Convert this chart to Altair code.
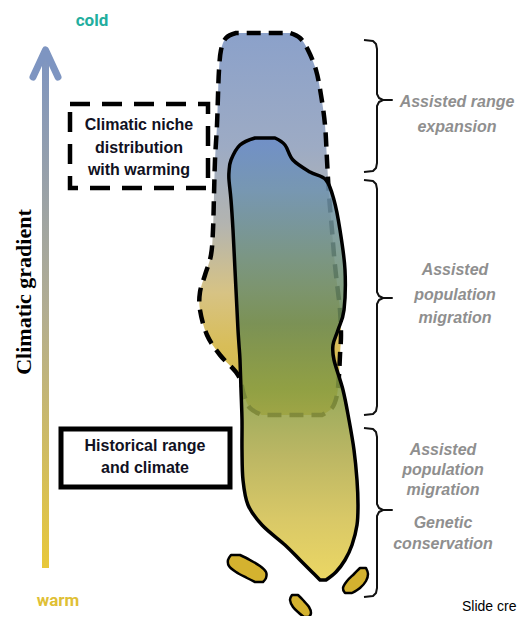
import altair as alt
import pandas as pd

# ---------------- data (diagram geometry) ----------------
# Climatic niche with warming (dashed outline): rows of (y, left x, right x)
niche_y     = [33, 38, 50, 70, 95, 125, 160, 195, 230, 255, 275, 292, 310, 335, 355, 375, 395, 408, 415]
niche_left  = [236, 226, 221, 219, 218, 217, 215, 214, 213, 211, 205, 200, 200, 207, 220, 238, 244, 250, 262]
niche_right = [290, 300, 308, 316, 321, 325, 327, 329, 332, 334, 336, 338, 340, 341, 340, 339, 337, 332, 322]

# Historical range (solid outline)
hist_y     = [138, 145, 160, 172, 180, 200, 230, 270, 310, 330, 345, 360, 390, 420, 450, 480, 505, 525, 545, 560, 572, 580]
hist_left  = [255, 240, 231, 229, 229, 231, 233, 235, 237, 238, 239, 240, 241, 242, 242, 243, 248, 262, 285, 300, 312, 320]
hist_right = [275, 285, 293, 310, 326, 334, 340, 345, 344, 338, 333, 334, 343, 349, 354, 357, 358, 357, 352, 345, 336, 326]

# Isolated populations
isl1_y, isl1_l, isl1_r = [555, 560, 566, 572, 578, 582], [231, 228, 229, 236, 247, 255], [240, 250, 260, 266, 266, 263]
isl2_y, isl2_l, isl2_r = [595, 600, 607, 613, 617], [292, 290, 293, 299, 304], [298, 303, 309, 311, 309]
isl3_y, isl3_l, isl3_r = [568, 574, 581, 588, 593], [360, 354, 347, 343, 345], [366, 368, 366, 360, 352]

# Brackets: (top, middle, bottom)
bracket_top = [40, 180, 428]
bracket_mid = [100, 298, 510]
bracket_bot = [172, 415, 597]

# Bracket labels
label_text = ["Assisted range", "expansion",
              "Assisted", "population", "migration",
              "Assisted", "population", "migration", "Genetic", "conservation"]
label_x = [457, 457, 455, 455, 455, 443, 443, 443, 443, 443]
label_y = [102, 127, 270, 295, 318, 450, 470, 490, 523, 544]

XS = alt.Scale(domain=[8, 520], nice=False, zero=False)
YS = alt.Scale(domain=[8, 616], nice=False, zero=False, reverse=True)


def X(f):
    return alt.X(f, type="quantitative", scale=XS, axis=None)


def Y(f):
    return alt.Y(f, type="quantitative", scale=YS, axis=None)


def grad(stops):
    return alt.Gradient(gradient="linear", x1=0, x2=0, y1=0, y2=1,
                        stops=[alt.GradientStop(color=c, offset=o) for o, c in stops])


def blob(ys, ls, rs, **mk):
    df = pd.DataFrame({"y": ys, "xl": ls, "xr": rs})
    return alt.Chart(df).mark_area(orient="horizontal", interpolate="cardinal",
                                   strokeJoin="round", **mk).encode(
        y=Y("y"), x=X("xl"), x2="xr")


# --- left arrow ---
shaft = alt.Chart(pd.DataFrame({"x": [42], "x2": [49], "y": [52], "y2": [568]})).mark_rect(
    fill=grad([(0, "#7e95c1"), (0.5, "#b2ad92"), (1, "#e8c83a")])
).encode(x=X("x"), x2="x2", y=Y("y"), y2="y2")

head = alt.Chart(pd.DataFrame({"x": [33, 45.5, 58], "y": [77, 50, 77], "o": [0, 1, 2]})).mark_line(
    color="#7e95c1", strokeWidth=7, strokeCap="round", strokeJoin="round"
).encode(x=X("x"), y=Y("y"), order="o")

niche = blob(niche_y, niche_left, niche_right,
             fill=grad([(0, "#8ba1ca"), (0.3, "#9dabc4"), (0.5, "#b3b4b0"),
                        (0.68, "#d7c384"), (0.82, "#d8bd58"), (1, "#ccb848")]),
             stroke="black", strokeWidth=4.5, strokeDash=[14, 8])

hist = blob(hist_y, hist_left, hist_right,
            fill=grad([(0, "#6a8cc8"), (0.12, "#6f93b0"), (0.27, "#6f9080"), (0.42, "#6c8a52"),
                       (0.57, "#879c42"), (0.72, "#b1ab4a"), (0.86, "#d2bf4e"), (1, "#e8d04a")]),
            fillOpacity=0.86, stroke="black", strokeWidth=3.5)

islands = [blob(a, b, c, fill="#d4b22f", stroke="black", strokeWidth=2.5)
           for a, b, c in [(isl1_y, isl1_l, isl1_r), (isl2_y, isl2_l, isl2_r), (isl3_y, isl3_l, isl3_r)]]

# --- brackets ---
rows = []
for k, (t, m, b) in enumerate(zip(bracket_top, bracket_mid, bracket_bot)):
    x0, xv, xt = 364, 377, 392
    pts = [(x0, t), (xv - 4, t + 1), (xv - 1, t + 4), (xv, t + 9), (xv, m - 6), (xv + 2, m - 2),
           (xv + 6, m), (xt, m), (xv + 6, m), (xv + 2, m + 2), (xv, m + 6), (xv, b - 9),
           (xv - 1, b - 4), (xv - 4, b - 1), (x0, b)]
    for i, (px, py) in enumerate(pts):
        rows.append({"g": k, "o": i, "x": px, "y": py})
brackets = alt.Chart(pd.DataFrame(rows)).mark_line(
    color="#111111", strokeWidth=2, strokeJoin="round"
).encode(x=X("x"), y=Y("y"), order="o", detail="g:N")

labels = alt.Chart(pd.DataFrame({"t": label_text, "x": label_x, "y": label_y})).mark_text(
    font="Liberation Sans", fontSize=16, fontWeight="bold", fontStyle="italic",
    color="#8f8f8f", baseline="middle", align="center"
).encode(x=X("x"), y=Y("y"), text="t:N")

# --- boxes ---
boxes_df = pd.DataFrame({"x": [70, 61], "x2": [208, 230], "y": [104, 429], "y2": [188, 487],
                         "k": ["dash", "solid"]})
box_dash = alt.Chart(boxes_df[boxes_df.k == "dash"]).mark_rect(
    fill="white", stroke="black", strokeWidth=4.5, strokeDash=[20, 12]
).encode(x=X("x"), x2="x2", y=Y("y"), y2="y2")
box_solid = alt.Chart(boxes_df[boxes_df.k == "solid"]).mark_rect(
    fill="white", stroke="black", strokeWidth=5
).encode(x=X("x"), x2="x2", y=Y("y"), y2="y2")

box_text_df = pd.DataFrame({
    "t": ["Climatic niche", "distribution", "with warming", "Historical range", "and climate"],
    "x": [139, 139, 139, 145, 145],
    "y": [125, 148, 170, 446, 468]})
box_text = alt.Chart(box_text_df).mark_text(
    font="Liberation Sans", fontSize=16, fontWeight="bold", color="#111122",
    baseline="middle", align="center"
).encode(x=X("x"), y=Y("y"), text="t:N")

# --- other text ---
cold = alt.Chart(pd.DataFrame({"t": ["cold"], "x": [92], "y": [21]})).mark_text(
    font="Roboto", fontSize=17, fontWeight="bold", color="#22ae9e", baseline="middle"
).encode(x=X("x"), y=Y("y"), text="t:N")
warm = alt.Chart(pd.DataFrame({"t": ["warm"], "x": [58], "y": [601]})).mark_text(
    font="Roboto", fontSize=17, fontWeight="bold", color="#dfc035", baseline="middle"
).encode(x=X("x"), y=Y("y"), text="t:N")
grad_label = alt.Chart(pd.DataFrame({"t": ["Climatic gradient"], "x": [24], "y": [292]})).mark_text(
    font="Liberation Serif", fontSize=22, fontWeight="bold", color="black",
    angle=270, baseline="middle", align="center"
).encode(x=X("x"), y=Y("y"), text="t:N")
credit = alt.Chart(pd.DataFrame({"t": ["Slide cre"], "x": [462], "y": [607]})).mark_text(
    font="Liberation Sans", fontSize=14, color="black", baseline="middle", align="left"
).encode(x=X("x"), y=Y("y"), text="t:N")

chart = alt.layer(
    shaft, head, niche, hist, *islands, brackets, labels,
    box_dash, box_solid, box_text, cold, warm, grad_label, credit
).properties(
    width=512, height=608, padding=0, autosize=alt.AutoSizeParams(type="none"),
    background="white"
).configure_view(stroke=None)

chart.save("out.html", embed_options={"renderer": "svg", "actions": False})
